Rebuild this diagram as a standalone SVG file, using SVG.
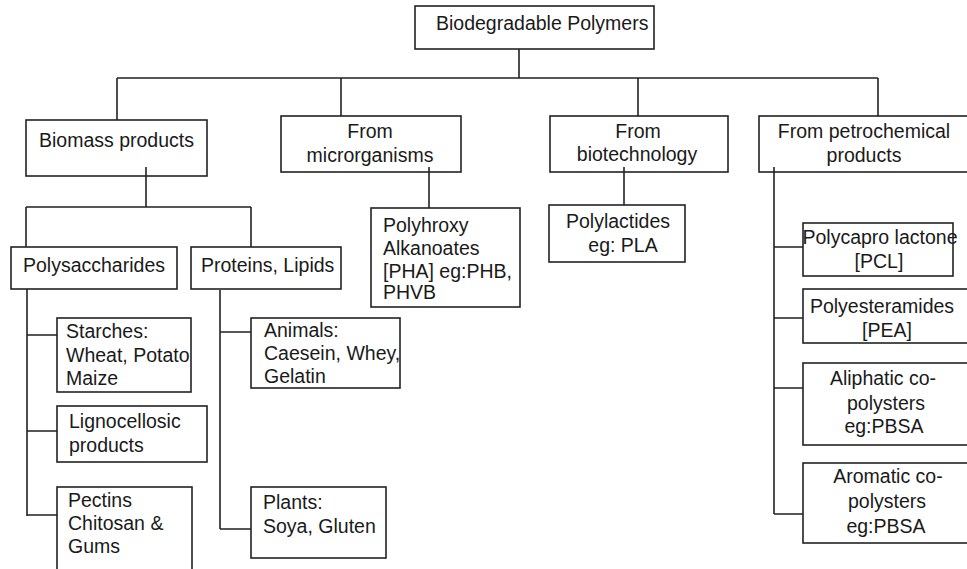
<svg xmlns="http://www.w3.org/2000/svg" width="967" height="569" viewBox="0 0 967 569">
<style>
.box{fill:#fff;stroke:#222;stroke-width:1.6}
.ln{fill:none;stroke:#222;stroke-width:1.6}
text{font-family:"Liberation Sans",Arial,sans-serif;font-size:19.5px;fill:#1a1a1a}
.c{text-anchor:middle}
</style>
<rect width="967" height="569" fill="#fff"/>
<g id="root"><rect class="box" x="415" y="6" width="239" height="43"/><text x="436" y="29.5">Biodegradable Polymers</text></g>
<g id="biomass"><rect class="box" x="26" y="120" width="181" height="56"/><text x="39" y="147">Biomass products</text></g>
<g id="micro"><rect class="box" x="281" y="116" width="180" height="56"/><text class="c" x="370" y="137.5">From</text><text class="c" x="370" y="162">microrganisms</text></g>
<g id="biotech"><rect class="box" x="550" y="116" width="178" height="56"/><text class="c" x="638" y="137.5">From</text><text class="c" x="637" y="161">biotechnology</text></g>
<g id="petro"><rect class="box" x="759" y="116" width="215" height="56"/><text class="c" x="864" y="137.5">From petrochemical</text><text class="c" x="864" y="162">products</text></g>
<g id="polysacch"><rect class="box" x="11" y="247" width="166" height="42"/><text x="23" y="272">Polysaccharides</text></g>
<g id="proteins"><rect class="box" x="191" y="247" width="150" height="42"/><text x="201" y="272">Proteins, Lipids</text></g>
<g id="starches"><rect class="box" x="57" y="318" width="134" height="74"/><text x="66" y="338">Starches:</text><text x="66" y="362">Wheat, Potato</text><text x="66" y="385">Maize</text></g>
<g id="ligno"><rect class="box" x="57" y="406" width="150" height="56"/><text x="69" y="428">Lignocellosic</text><text x="69" y="452">products</text></g>
<g id="pectins"><rect class="box" x="57" y="487" width="135" height="90"/><text x="68" y="507">Pectins</text><text x="68" y="530">Chitosan &amp;</text><text x="68" y="553">Gums</text></g>
<g id="animals"><rect class="box" x="251" y="318" width="149" height="70"/><text x="264" y="337">Animals:</text><text x="264" y="360">Caesein, Whey,</text><text x="264" y="383">Gelatin</text></g>
<g id="plants"><rect class="box" x="251" y="487" width="135" height="71"/><text x="263" y="509">Plants:</text><text x="263" y="533">Soya, Gluten</text></g>
<g id="pha"><rect class="box" x="371" y="208" width="149" height="99"/><text x="383" y="232">Polyhroxy</text><text x="383" y="255">Alkanoates</text><text x="383" y="278">[PHA] eg:PHB,</text><text x="383" y="299">PHVB</text></g>
<g id="pla"><rect class="box" x="549" y="205" width="136" height="57"/><text class="c" x="618" y="228">Polylactides</text><text class="c" x="623" y="252">eg: PLA</text></g>
<g id="pcl"><rect class="box" x="803" y="223" width="150" height="53"/><text class="c" x="880" y="244">Polycapro lactone</text><text class="c" x="879" y="268">[PCL]</text></g>
<g id="pea"><rect class="box" x="803" y="289" width="172" height="54"/><text class="c" x="882" y="313">Polyesteramides</text><text class="c" x="887" y="337">[PEA]</text></g>
<g id="aliphatic"><rect class="box" x="803" y="363" width="172" height="82"/><text class="c" x="883" y="385">Aliphatic co-</text><text class="c" x="886" y="410">polysters</text><text class="c" x="884" y="433">eg:PBSA</text></g>
<g id="aromatic"><rect class="box" x="803" y="463" width="172" height="80"/><text class="c" x="888" y="483">Aromatic co-</text><text class="c" x="887" y="508">polysters</text><text class="c" x="886" y="533">eg:PBSA</text></g>
<g id="connectors">
<path class="ln" d="M519 49V78M117 78H878M117 78V120M341 78V116M638 78V116M878 78V116"/>
<path class="ln" d="M146 167V207M26 207H251M26 207V247M251 207V247"/>
<path class="ln" d="M27 289V516M27 335H57M27 431H57M27 515H57"/>
<path class="ln" d="M220 290V529M220 332H251M220 529H251"/>
<path class="ln" d="M429 167V208"/>
<path class="ln" d="M624 167V205"/>
<path class="ln" d="M774 167V514M774 247H803M774 318H803M774 388H803M774 514H803"/>
</g>
</svg>
